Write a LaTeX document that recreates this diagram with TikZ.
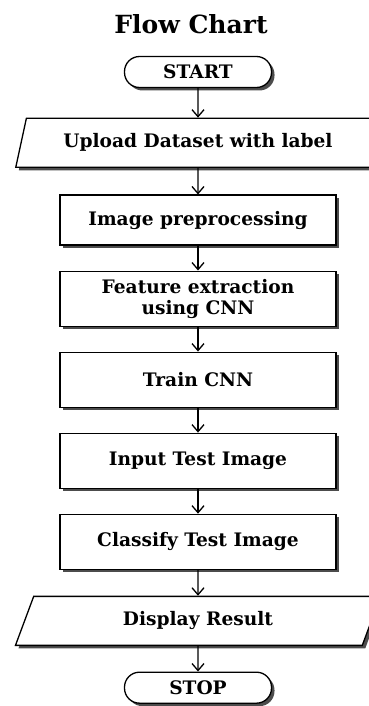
\documentclass[tikz,border=0pt]{standalone}
\usepackage{fontspec}
\setmainfont{DejaVu Serif}
\usetikzlibrary{arrows.meta,positioning,shapes.geometric,shadows}

\begin{document}
\begin{tikzpicture}[x=1pt, y=1pt, >={Straight Barb[length=7pt,width=12pt]}, node distance=24.75pt,
  font=\fontsize{18.6}{21}\selectfont\bfseries, line width=1.3pt,
  sd/.style={drop shadow={shadow xshift=3pt, shadow yshift=-3pt, fill=black!70, opacity=1}},
  tm/.style={draw, fill=white, sd, rounded corners=15pt, minimum width=147pt, minimum height=31pt, inner sep=2pt},
  io/.style={draw, fill=white, sd, trapezium, trapezium left angle=69, trapezium right angle=111,
    trapezium stretches=true, minimum width=366pt, minimum height=49pt, inner sep=2pt},
  bx/.style={draw, fill=white, sd, align=center, minimum width=276pt, minimum height=55pt, inner sep=2pt}]
  \useasboundingbox (0,0) rectangle (369,-706);
  \node[font=\fontsize{25}{29}\selectfont\bfseries] (title) at (191,-24) {Flow Chart};
  \node[tm] (start) at (198,-72) {START};
  \node[io, below=29.5pt of start] (upload) {Upload Dataset with label};
  \node[bx, minimum height=50pt, below=26.5pt of upload] (prep) {Image preprocessing};
  \node[bx, below=of prep] (feat) {Feature extraction\\using CNN};
  \node[bx, below=of feat] (train) {Train CNN};
  \node[bx, below=of train] (input) {Input Test Image};
  \node[bx, below=of input] (class) {Classify Test Image};
  \node[io, below=25.75pt of class] (disp) {Display Result};
  \node[tm, below=25.5pt of disp] (stop) {STOP};
  \draw[->] (start) -- (upload);
  \draw[->] (upload) -- (prep);
  \draw[->] (prep) -- (feat);
  \draw[->] (feat) -- (train);
  \draw[->] (train) -- (input);
  \draw[->] (input) -- (class);
  \draw[->] (class) -- (disp);
  \draw[->] (disp) -- (stop);
\end{tikzpicture}
\end{document}
